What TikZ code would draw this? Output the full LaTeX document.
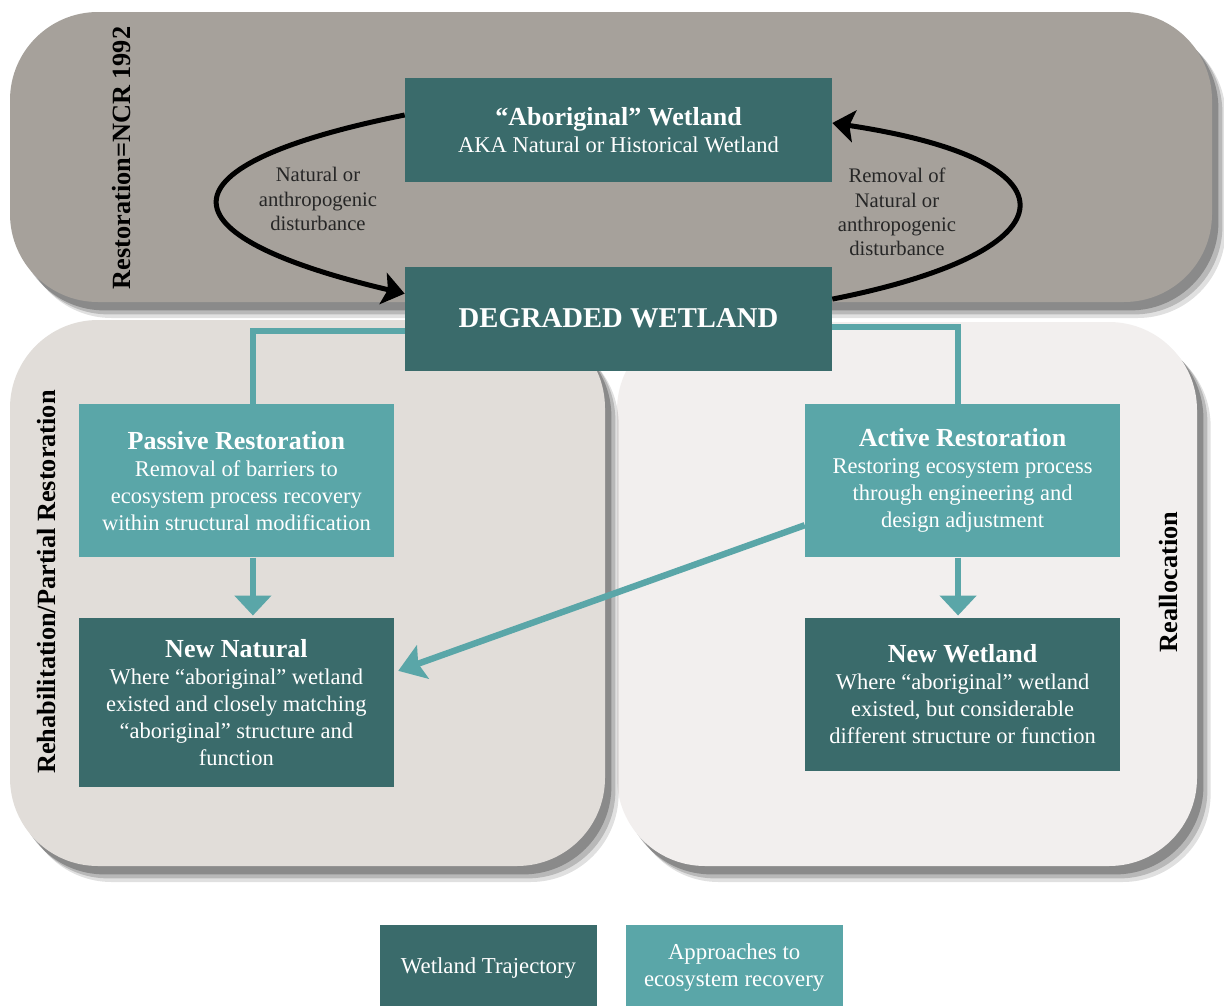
\documentclass[tikz,border=0pt]{standalone}
\usepackage{fontspec}
\setmainfont{Liberation Serif}
\usetikzlibrary{shapes, arrows.meta, positioning, calc, shadows}

\definecolor{trajteal}{HTML}{3A6B6B}
\definecolor{apprteal}{HTML}{5AA6A8}
\definecolor{toppanel}{HTML}{A6A19B}
\definecolor{leftpanel}{HTML}{E1DDD9}
\definecolor{rightpanel}{HTML}{F2EFEE}

\newcommand{\boxtitle}[1]{{\fontsize{18.5pt}{19pt}\selectfont\bfseries #1}}

\begin{document}
\begin{tikzpicture}[
    x=0.025cm, y=-0.025cm,
    node distance=1.5cm and 1.5cm,
    panel/.style={rounded corners=2.2cm,
      drop shadow={shadow xshift=0.34cm, shadow yshift=-0.4cm, fill=black, opacity=.12},
      drop shadow={shadow xshift=0.26cm, shadow yshift=-0.31cm, fill=black, opacity=.18},
      drop shadow={shadow xshift=0.16cm, shadow yshift=-0.21cm, fill=black, opacity=.25}},
    wetland/.style={rectangle, fill=trajteal, text=white, align=center, inner sep=0pt,
      font=\fontsize{16pt}{19.2pt}\selectfont},
    approach/.style={wetland, fill=apprteal},
    wide/.style={minimum width=10.675cm, minimum height=2.6cm},
    small/.style={minimum width=7.875cm, minimum height=3.825cm},
    legend/.style={minimum width=5.425cm, minimum height=2.025cm, text depth=-0.2cm,
      font=\fontsize{16.2pt}{19.2pt}\selectfont},
    note/.style={align=center, text=black!85, font=\fontsize{14.7pt}{17.3pt}\selectfont},
    sidelabel/.style={rotate=90, font=\fontsize{18.7pt}{20pt}\selectfont\bfseries},
    blackarrow/.style={line width=0.125cm, -{Stealth[length=0.55cm, width=0.8cm, inset=0.12cm]}},
    tealline/.style={draw=apprteal, line width=0.16cm},
    tealarrow/.style={tealline, -{Triangle[length=0.5cm, width=0.9cm]}}
]
\useasboundingbox (0,0) rectangle (1224,1006);

% Panels
\path[panel, fill=rightpanel] (617,322) rectangle (1197,866);
\path[panel, fill=leftpanel] (10,320) rectangle (605,866);
\path[panel, fill=toppanel] (10,12) rectangle (1212,302);

% Side labels
\node[sidelabel] (ncr) at (122,158) {Restoration=NCR 1992};
\node[sidelabel] (rehab) at (47,582) {Rehabilitation/Partial Restoration};
\node[sidelabel] (realloc) at (1168,582) {Reallocation};

% Nodes
\node[wetland, wide] (aborig) at (618.5,130) {%
  \boxtitle{“Aboriginal” Wetland}\\
  AKA Natural or Historical Wetland};
\node[wetland, wide, below=2.1cm of aborig] (degraded) {%
  {\fontsize{20.4pt}{22pt}\selectfont\bfseries DEGRADED WETLAND}};

\node[approach, small, below=0.825cm of degraded, xshift=-9.55cm] (passive) {%
  \boxtitle{Passive Restoration}\\
  Removal of barriers to\\
  ecosystem process recovery\\
  within structural modification};
\node[wetland, small, below=1.5cm of passive, minimum height=4.225cm] (newnat) {%
  \boxtitle{New Natural}\\
  Where “aboriginal” wetland\\
  existed and closely matching\\
  “aboriginal” structure and\\
  function};

\node[approach, small, below=0.825cm of degraded, xshift=8.6cm] (active) {%
  \boxtitle{Active Restoration}\\
  Restoring ecosystem process\\
  through engineering and\\
  design adjustment};
\node[wetland, small, below=1.5cm of active] (newwet) {%
  \boxtitle{New Wetland}\\
  Where “aboriginal” wetland\\
  existed, but considerable\\
  different structure or function};

\node[note] (disturb) at (318,199) {Natural or\\ anthropogenic\\ disturbance};
\node[note] (removal) at (897,212) {Removal of\\ Natural or\\ anthropogenic\\ disturbance};

% Legend
\node[wetland, legend] (legtraj) at (488.5,965.5) {Wetland Trajectory};
\node[approach, legend, right=0.7cm of legtraj] (legappr) {Approaches to\\ ecosystem recovery};

% Arrows
\draw[blackarrow] ($(aborig.west)+(0,-15)$) .. controls (156,165) and (156,235) .. ($(degraded.west)+(0,-25)$);
\draw[blackarrow] ($(degraded.east)+(0,-19.5)$) .. controls (1080,250) and (1080,160) .. ($(aborig.east)+(0,-7)$);

\draw[tealline] ($(degraded.west)+(0,12.5)$) -| ($(passive.north)+(16.5,0)$);
\draw[tealline] ($(degraded.east)+(0,8.5)$) -| ($(active.north)+(-4.5,0)$);
\draw[tealarrow] ($(passive.south)+(16.5,0)$) -- ($(newnat.north)+(16.5,-2)$);
\draw[tealarrow] ($(active.south)+(-4.5,0)$) -- ($(newwet.north)+(-4.5,-2)$);
\draw[tealline, -{Stealth[length=0.65cm, width=0.88cm, inset=0.12cm]}]
  ($(active.west)+(0,44.5)$) -- ($(newnat.east)+(4,-31.5)$);

\end{tikzpicture}
\end{document}
